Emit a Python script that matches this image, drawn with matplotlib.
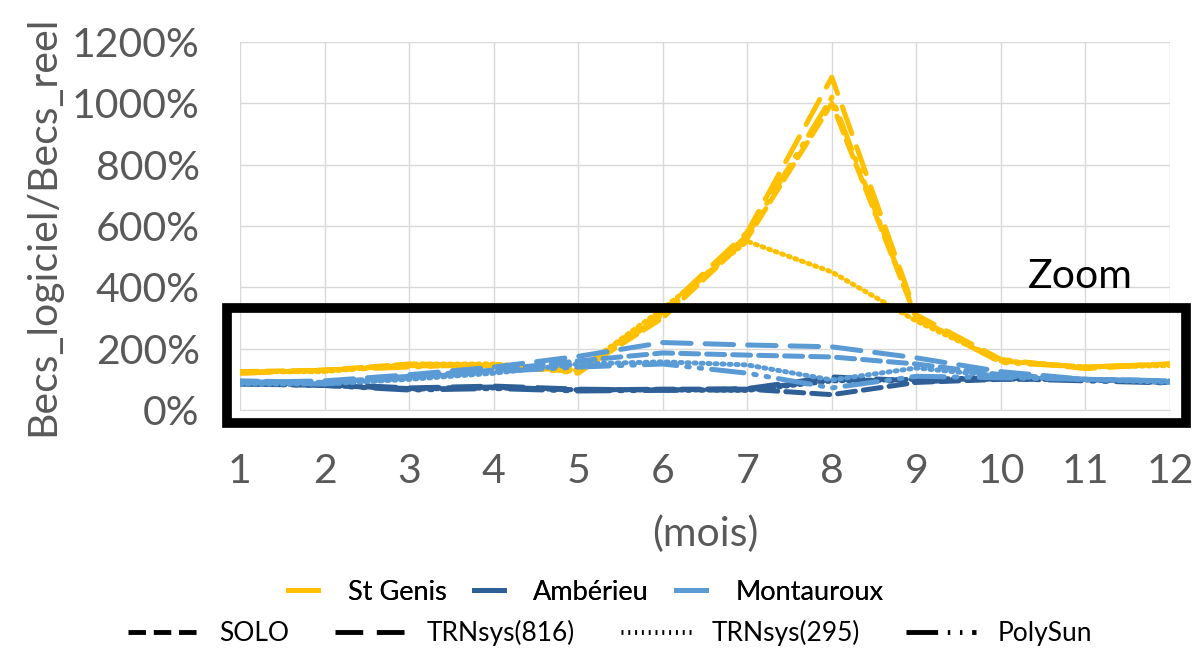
import matplotlib
matplotlib.use("Agg")
import matplotlib.pyplot as plt
from matplotlib.lines import Line2D
from matplotlib.patches import Rectangle

plt.rcParams['font.family'] = ['Lato', 'DejaVu Sans']

months = [1, 2, 3, 4, 5, 6, 7, 8, 9, 10, 11, 12]
sites = ["St Genis", "Ambérieu", "Montauroux"]
softwares = ["SOLO", "TRNsys(816)", "TRNsys(295)", "PolySun"]
yticks = [0, 200, 400, 600, 800, 1000, 1200]

# St Genis (%)
stgenis_solo = [125, 130, 150, 145, 125, 300, 560, 1000, 300, 160, 140, 150]
stgenis_trn816 = [120, 130, 145, 140, 130, 320, 580, 1085, 310, 165, 135, 150]
stgenis_trn295 = [125, 125, 150, 150, 130, 330, 550, 450, 290, 160, 140, 145]
stgenis_polysun = [120, 130, 140, 150, 120, 310, 570, 1020, 300, 155, 140, 150]

# Ambérieu (%)
amberieu_solo = [85, 80, 70, 75, 65, 68, 68, 50, 90, 100, 100, 90]
amberieu_trn816 = [90, 85, 72, 78, 68, 65, 70, 108, 95, 105, 100, 92]
amberieu_trn295 = [88, 82, 68, 72, 66, 66, 64, 95, 100, 105, 98, 90]
amberieu_polysun = [85, 80, 65, 70, 62, 64, 66, 100, 92, 102, 95, 88]

# Montauroux (%)
montauroux_solo = [95, 90, 110, 130, 160, 186, 179, 173, 150, 115, 100, 95]
montauroux_trn816 = [90, 95, 115, 140, 175, 220, 212, 206, 170, 125, 100, 95]
montauroux_trn295 = [85, 85, 100, 120, 150, 157, 147, 98, 137, 110, 100, 90]
montauroux_polysun = [90, 85, 105, 125, 140, 150, 120, 72, 110, 105, 100, 95]

colors = {"St Genis": "#FFC000", "Ambérieu": "#2F5F97", "Montauroux": "#5B9BD5"}
dashes = {
    "SOLO": (3.6, 1.6),
    "TRNsys(816)": (5.7, 2.8),
    "TRNsys(295)": (0.4, 1.0),
    "PolySun": (6.5, 2.0, 0.5, 2.0, 0.5, 2.0),
}

data = {
    "St Genis": [stgenis_solo, stgenis_trn816, stgenis_trn295, stgenis_polysun],
    "Ambérieu": [amberieu_solo, amberieu_trn816, amberieu_trn295, amberieu_polysun],
    "Montauroux": [montauroux_solo, montauroux_trn816, montauroux_trn295, montauroux_polysun],
}

fig = plt.figure(figsize=(12.04, 6.5), dpi=100)
ax = fig.add_axes([240 / 1204, (650 - 410) / 650, (1170 - 240) / 1204, (410 - 42) / 650])

lw = 3.6
for site in sites:
    for sw, vals in zip(softwares, data[site]):
        ax.plot(months, vals, color=colors[site], lw=lw, dashes=dashes[sw],
                solid_capstyle='round', dash_capstyle='round')

ax.set_xlim(1, 12)
ax.set_ylim(0, 1200)
ax.set_xticks(months)
ax.set_yticks(yticks)
ax.set_yticklabels([f"{v}%" for v in yticks])
ax.grid(True, color="#D9D9D9", lw=1)
ax.set_axisbelow(True)
for s in ["top", "right", "left"]:
    ax.spines[s].set_visible(False)
ax.spines["bottom"].set_color("#D9D9D9")
ax.tick_params(length=0, labelsize=29.5, colors="#595959")
ax.tick_params(axis='y', pad=29)
ax.tick_params(axis='x', pad=31)
ax.set_xlabel("(mois)", fontsize=29.5, color="#595959", labelpad=18)
ax.set_ylabel("Becs_logiciel/Becs_reel", fontsize=29.5, color="#595959", labelpad=8)

# Zoom box
fig.patches.append(Rectangle((227 / 1204, (650 - 423) / 650), (1186 - 227) / 1204, (423 - 308) / 650,
                             transform=fig.transFigure, fill=False, edgecolor="black", lw=7))
fig.text(1080 / 1204, (650 - 277) / 650, "Zoom", fontsize=29.5, color="black", ha="center", va="center")

# Legends
site_handles = [Line2D([], [], color=colors[s], lw=3.5) for s in sites]
leg1 = fig.legend(site_handles, sites, loc="center", bbox_to_anchor=(586 / 1204, (650 - 592) / 650),
                  ncol=3, frameon=False, fontsize=19.5, handlelength=1.1, columnspacing=1.0,
                  handletextpad=1.1)
sw_handles = [Line2D([], [], color="black", lw=3.5, dashes=dashes[sw]) for sw in softwares]
leg2 = fig.legend(sw_handles, softwares, loc="center", bbox_to_anchor=(610 / 1204, (650 - 633) / 650),
                  ncol=4, frameon=False, fontsize=19, handlelength=2.65, columnspacing=1.75,
                  handletextpad=0.8)
fig.add_artist(leg1)

fig.savefig("out.png", dpi=100)
